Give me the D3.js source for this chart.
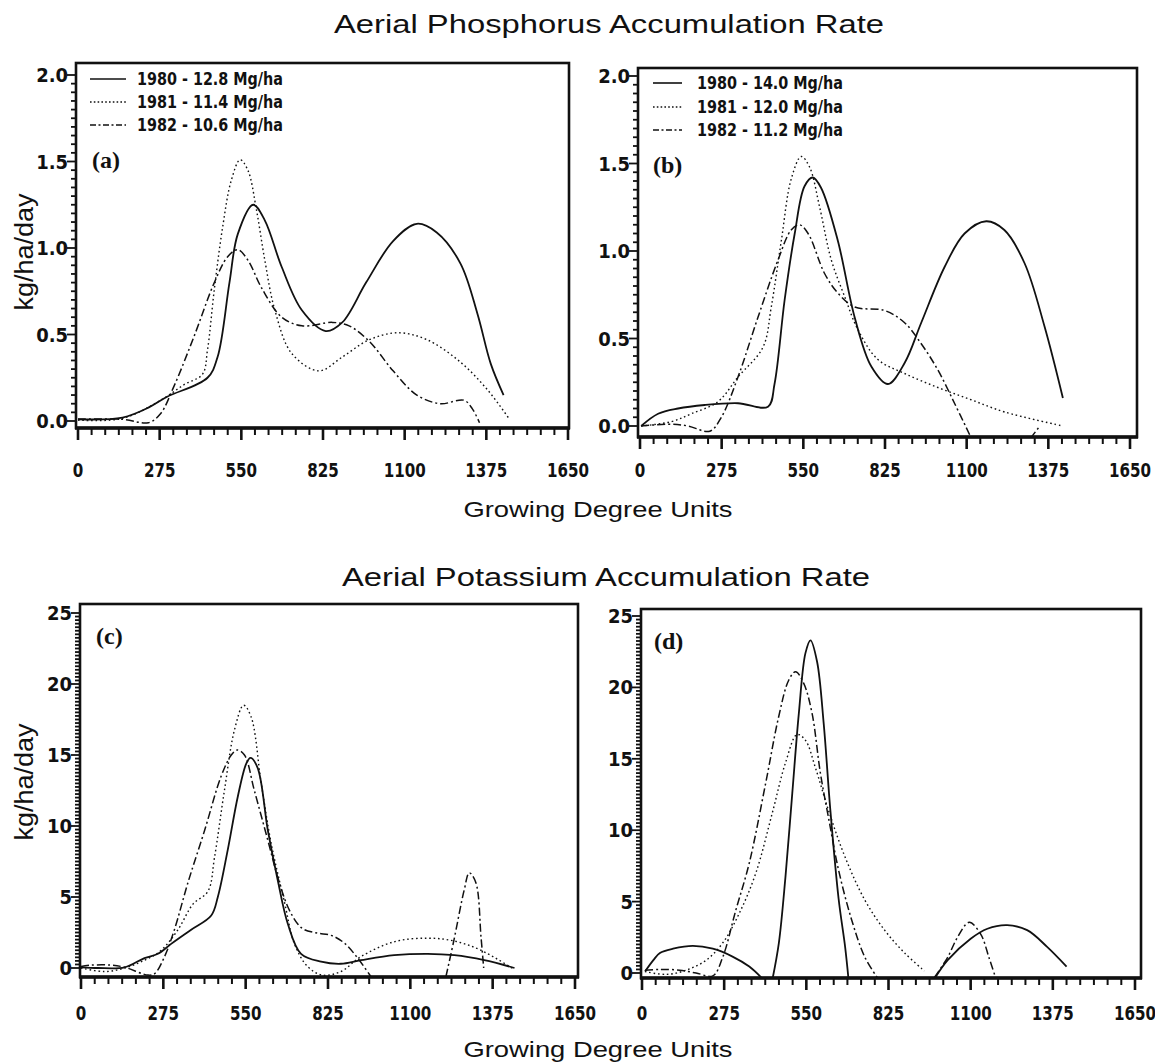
<!DOCTYPE html>
<html>
<head>
<meta charset="utf-8">
<script src="https://cdn.jsdelivr.net/npm/d3@7"></script>
<style>
  body { margin: 0; background: #fff; }
  .tick-label { font-family: "Liberation Sans Narrow", "DejaVu Sans Condensed", "Arial Narrow", sans-serif; font-weight: bold; font-size: 20px; fill: #111; }
  .legend-label { font-family: "Liberation Sans Narrow", "DejaVu Sans Condensed", "Arial Narrow", sans-serif; font-weight: bold; font-size: 18px; fill: #111; }
  .title { font-family: "Liberation Sans", Arial, sans-serif; fill: #111; }
  .panel-label { font-family: "Liberation Serif", "Times New Roman", serif; font-weight: bold; font-size: 24px; fill: #111; }
</style>
</head>
<body>
<div id="canvas"></div>
<script>
const w = 1155;
const h = 1064;

const gduTicks = [0, 275, 550, 825, 1100, 1375, 1650];
const pTicks = [0, 0.5, 1.0, 1.5, 2.0];
const kTicks = [0, 5, 10, 15, 20, 25];
const legendA = ["1980 - 12.8 Mg/ha", "1981 - 11.4 Mg/ha", "1982 - 10.6 Mg/ha"];
const legendB = ["1980 - 14.0 Mg/ha", "1981 - 12.0 Mg/ha", "1982 - 11.2 Mg/ha"];

// [gdu, kg/ha/day], null = gap in the curve
const a1980 = [[0,0.01],[150,0.02],[240,0.08],[300,0.14],[436,0.25],[470,0.37],[510,0.80],[538,1.08],[590,1.25],[629,1.16],[686,0.89],[754,0.64],[834,0.52],[890,0.57],[970,0.80],[1061,1.04],[1141,1.14],[1208,1.09],[1288,0.91],[1345,0.62],[1390,0.33],[1433,0.15]];
const a1981 = [[0,0.005],[150,0.015],[288,0.13],[357,0.21],[419,0.27],[436,0.41],[459,0.76],[487,1.12],[516,1.39],[546,1.51],[572,1.45],[601,1.22],[629,0.93],[663,0.64],[720,0.39],[811,0.29],[890,0.37],[981,0.47],[1078,0.51],[1175,0.47],[1288,0.34],[1379,0.18],[1453,0.01]];
const a1982 = [[0,0.01],[150,0.01],[237,-0.01],[277,0.04],[323,0.20],[391,0.49],[459,0.80],[504,0.95],[538,0.99],[572,0.93],[618,0.77],[686,0.60],[754,0.55],[857,0.57],[913,0.55],[981,0.46],[1061,0.29],[1141,0.15],[1220,0.10],[1300,0.12],[1328,0.07],[1352,-0.01]];

const b1980 = [[4,0],[61,0.07],[128,0.10],[218,0.12],[330,0.13],[431,0.11],[453,0.24],[487,0.72],[521,1.10],[554,1.37],[582,1.42],[610,1.36],[666,1.06],[723,0.62],[779,0.34],[835,0.24],[891,0.36],[947,0.59],[1026,0.91],[1093,1.10],[1166,1.17],[1227,1.12],[1295,0.93],[1362,0.57],[1424,0.16]];
const b1981 = [[4,0],[106,0.025],[173,0.07],[263,0.14],[330,0.28],[414,0.45],[442,0.68],[476,1.06],[509,1.41],[543,1.54],[571,1.48],[605,1.25],[644,0.95],[689,0.74],[734,0.55],[801,0.38],[891,0.30],[1003,0.22],[1115,0.15],[1228,0.08],[1424,0.0]];
const b1982 = [[4,0],[106,0.01],[162,0],[235,-0.03],[274,0.05],[330,0.28],[397,0.62],[465,0.95],[509,1.12],[537,1.15],[566,1.10],[622,0.87],[666,0.76],[723,0.68],[824,0.66],[891,0.59],[947,0.47],[1003,0.32],[1059,0.13],[1110,-0.05],[1200,null],[1315,-0.07],[1342,-0.01]];

const c1980 = [[0,0.05],[57,0],[146,0.05],[212,0.7],[257,1.0],[301,1.7],[368,2.7],[435,3.7],[457,5.0],[490,8.3],[524,12.1],[552,14.4],[566,14.8],[590,14.1],[624,9.7],[657,6.2],[691,3.1],[735,1.0],[802,0.45],[868,0.3],[935,0.55],[1046,0.9],[1158,1.0],[1247,0.9],[1347,0.55],[1448,0]];
const c1981 = [[0,0],[79,-0.25],[146,0],[212,0.55],[268,1.25],[324,2.7],[374,4.5],[424,5.4],[446,7.8],[479,12.5],[513,16.8],[543,18.5],[568,17.7],[602,13.0],[635,8.8],[680,4.6],[713,1.7],[757,0.1],[807,-0.5],[868,-0.25],[935,0.8],[1046,1.85],[1158,2.1],[1247,1.9],[1336,1.25],[1447,-0.1]];
const c1982 = [[0,0.1],[34,0.2],[101,0.2],[146,0.05],[224,-0.5],[246,-0.4],[279,0.8],[312,2.7],[357,6.0],[413,9.7],[468,13.5],[502,15.0],[522,15.35],[546,15.0],[579,12.5],[624,9.0],[657,6.4],[691,4.3],[724,3.1],[746,2.7],[791,2.45],[835,2.3],[880,1.75],[924,0.7],[968,-0.6],[1100,null],[1219,-0.6],[1246,2.0],[1280,5.5],[1297,6.7],[1319,6.0],[1336,2.2],[1345,0]];

const d1980 = [[10,0.1],[38,0.9],[60,1.4],[104,1.7],[170,1.9],[237,1.7],[303,1.15],[359,0.45],[403,-0.4],[420,null],[436,-0.5],[458,2.1],[480,6.7],[503,12.6],[525,18.2],[547,22.4],[564,23.3],[586,21.8],[608,17.5],[630,11.5],[658,5.2],[680,1.8],[691,-0.4],[800,null],[979,-0.4],[1023,0.9],[1100,2.4],[1156,3.1],[1222,3.35],[1289,3.0],[1355,1.85],[1421,0.45]];
const d1981 = [[10,0.1],[82,-0.1],[148,0.2],[215,0.9],[270,2.1],[326,4.2],[381,7.0],[436,11.2],[480,14.7],[519,16.7],[547,16.3],[580,14.4],[624,11.4],[680,8.1],[746,5.1],[812,3.0],[879,1.4],[945,0.15]];
const d1982 = [[10,0.2],[60,0.25],[126,0.2],[181,0],[237,-0.2],[270,1.1],[314,4.4],[359,7.7],[414,13.3],[458,18.0],[491,20.5],[514,21.1],[541,20.3],[569,18.2],[597,14.0],[624,10.9],[658,7.2],[702,3.7],[746,1.1],[790,-0.4],[900,null],[979,-0.3],[1023,1.1],[1056,2.5],[1095,3.55],[1134,2.7],[1161,1.1],[1183,-0.3]];

const styles = [
  { dash: null, width: 1.8 },
  { dash: "1.6,2.8", width: 1.4 },
  { dash: "8,3,2,3", width: 1.5 }
];

const panels = [
  { id: "a", series: [a1980, a1981, a1982], yTicks: pTicks, yTop: 2, fmt: ".1f", minor: 0.05,
    frame: { l: 76, r: 569, t: 63, b: 428 }, xr: [78, 568], yr: [421, 75], labelY: 477,
    legend: legendA, leg: { x1: 90, x2: 126, tx: 137, ys: [85, 108, 131] }, tag: [92, 168] },
  { id: "b", series: [b1980, b1981, b1982], yTicks: pTicks, yTop: 2, fmt: ".1f", minor: 0.05,
    frame: { l: 638, r: 1137, t: 68, b: 437 }, xr: [640, 1130], yr: [426, 76], labelY: 477,
    legend: legendB, leg: { x1: 653, x2: 682, tx: 697, ys: [89, 113, 136] }, tag: [653, 173] },
  { id: "c", series: [c1980, c1981, c1982], yTicks: kTicks, yTop: 25, fmt: "d", minor: 0.25,
    frame: { l: 80, r: 578, t: 604, b: 977 }, xr: [81, 575], yr: [968, 613], labelY: 1020,
    legend: null, tag: [96, 644] },
  { id: "d", series: [d1980, d1981, d1982], yTicks: kTicks, yTop: 25, fmt: "d", minor: 0.25,
    frame: { l: 641, r: 1141, t: 609, b: 978 }, xr: [642, 1135], yr: [973, 616], labelY: 1020,
    legend: null, tag: [654, 649] }
];

function render(){
  let svg = d3.select("#canvas")
              .append("svg")
              .attr("width", w)
              .attr("height", h)
              .style("background", "#fff");

  // titles
  svg.append("text").attr("class", "title")
     .attr("x", 609).attr("y", 33).attr("text-anchor", "middle")
     .attr("font-size", 26).attr("textLength", 550).attr("lengthAdjust", "spacingAndGlyphs")
     .text("Aerial Phosphorus Accumulation Rate");
  svg.append("text").attr("class", "title")
     .attr("x", 606).attr("y", 586).attr("text-anchor", "middle")
     .attr("font-size", 26).attr("textLength", 528).attr("lengthAdjust", "spacingAndGlyphs")
     .text("Aerial Potassium Accumulation Rate");
  [517, 1057].forEach(y => {
    svg.append("text").attr("class", "title")
       .attr("x", 598).attr("y", y).attr("text-anchor", "middle")
       .attr("font-size", 22).attr("textLength", 269).attr("lengthAdjust", "spacingAndGlyphs")
       .text("Growing Degree Units");
  });
  [252, 782].forEach(cy => {
    svg.append("text").attr("class", "title")
       .attr("transform", "translate(33," + cy + ") rotate(-90)")
       .attr("text-anchor", "middle")
       .attr("font-size", 25).attr("textLength", 117).attr("lengthAdjust", "spacingAndGlyphs")
       .text("kg/ha/day");
  });

  panels.forEach(p => drawPanel(svg, p));
}

function drawPanel(svg, p){
  const f = p.frame;
  const x = d3.scaleLinear().domain([0, 1650]).range(p.xr);
  const y = d3.scaleLinear().domain([0, p.yTop]).range(p.yr);

  let g = svg.append("g").attr("id", "panel-" + p.id);

  g.append("clipPath").attr("id", "clip-" + p.id)
   .append("rect")
   .attr("x", f.l).attr("y", f.t)
   .attr("width", f.r - f.l).attr("height", f.b - f.t);

  // x ticks: majors every 275, minors every 275/6
  const minorX = d3.range(0, 1650 + 1, 275 / 6);
  g.append("g").selectAll("line")
   .data(minorX)
   .enter().append("line")
     .attr("x1", d => x(d)).attr("x2", d => x(d))
     .attr("y1", f.b).attr("y2", (d, i) => f.b + (i % 6 === 0 ? 12 : 7))
     .attr("stroke", "#111")
     .attr("stroke-width", (d, i) => i % 6 === 0 ? 2.6 : 2);

  g.append("g").selectAll("text")
   .data(gduTicks)
   .enter().append("text")
     .attr("class", "tick-label")
     .attr("text-anchor", "middle")
     .attr("transform", d => "translate(" + x(d) + "," + p.labelY + ") scale(0.84,1)")
     .text(d => d);

  // y ticks
  const minorY = d3.range(0, p.yTop + p.minor / 2, p.minor);
  const per = Math.round((p.yTicks[1] - p.yTicks[0]) / p.minor);
  g.append("g").selectAll("line")
   .data(minorY)
   .enter().append("line")
     .attr("x1", (d, i) => f.l - (i % per === 0 ? 9 : 5)).attr("x2", f.l)
     .attr("y1", d => y(d)).attr("y2", d => y(d))
     .attr("stroke", "#111")
     .attr("stroke-width", 1.8);

  g.append("g").selectAll("text")
   .data(p.yTicks)
   .enter().append("text")
     .attr("class", "tick-label")
     .attr("text-anchor", "end")
     .attr("x", f.l - 8)
     .attr("y", d => y(d) + 7)
     .text(d => d3.format(p.fmt)(d));

  // frame
  g.append("rect")
   .attr("x", f.l).attr("y", f.t)
   .attr("width", f.r - f.l).attr("height", f.b - f.t)
   .attr("fill", "none")
   .attr("stroke", "#111")
   .attr("stroke-width", 2.6);
  g.append("line")
   .attr("x1", f.l - 1).attr("x2", f.r + 1)
   .attr("y1", f.b).attr("y2", f.b)
   .attr("stroke", "#111")
   .attr("stroke-width", 3.6);

  const line = d3.line()
                 .defined(d => d[1] !== null)
                 .x(d => x(d[0]))
                 .y(d => y(d[1]))
                 .curve(d3.curveCatmullRom.alpha(0.5));

  g.append("g")
   .attr("clip-path", "url(#clip-" + p.id + ")")
   .selectAll("path")
   .data(p.series)
   .enter().append("path")
     .attr("d", line)
     .attr("fill", "none")
     .attr("stroke", "#111")
     .attr("stroke-width", (d, i) => styles[i].width)
     .attr("stroke-dasharray", (d, i) => styles[i].dash);

  g.append("text")
   .attr("class", "panel-label")
   .attr("x", p.tag[0]).attr("y", p.tag[1])
   .text("(" + p.id + ")");

  if (p.legend) {
    let leg = g.append("g").classed("legend", true);
    leg.selectAll("line")
       .data(p.legend)
       .enter().append("line")
         .attr("x1", p.leg.x1).attr("x2", p.leg.x2)
         .attr("y1", (d, i) => p.leg.ys[i] - 6).attr("y2", (d, i) => p.leg.ys[i] - 6)
         .attr("stroke", "#111")
         .attr("stroke-width", (d, i) => i === 0 ? 1.6 : 1.4)
         .attr("stroke-dasharray", (d, i) => i === 0 ? null : (i === 1 ? "1.6,2.2" : "6,2.5,2,2.5"));
    leg.selectAll("text")
       .data(p.legend)
       .enter().append("text")
         .attr("class", "legend-label")
         .attr("x", p.leg.tx)
         .attr("y", (d, i) => p.leg.ys[i])
         .attr("textLength", 146)
         .attr("lengthAdjust", "spacingAndGlyphs")
         .text(d => d);
  }
}

render();
</script>
</body>
</html>
